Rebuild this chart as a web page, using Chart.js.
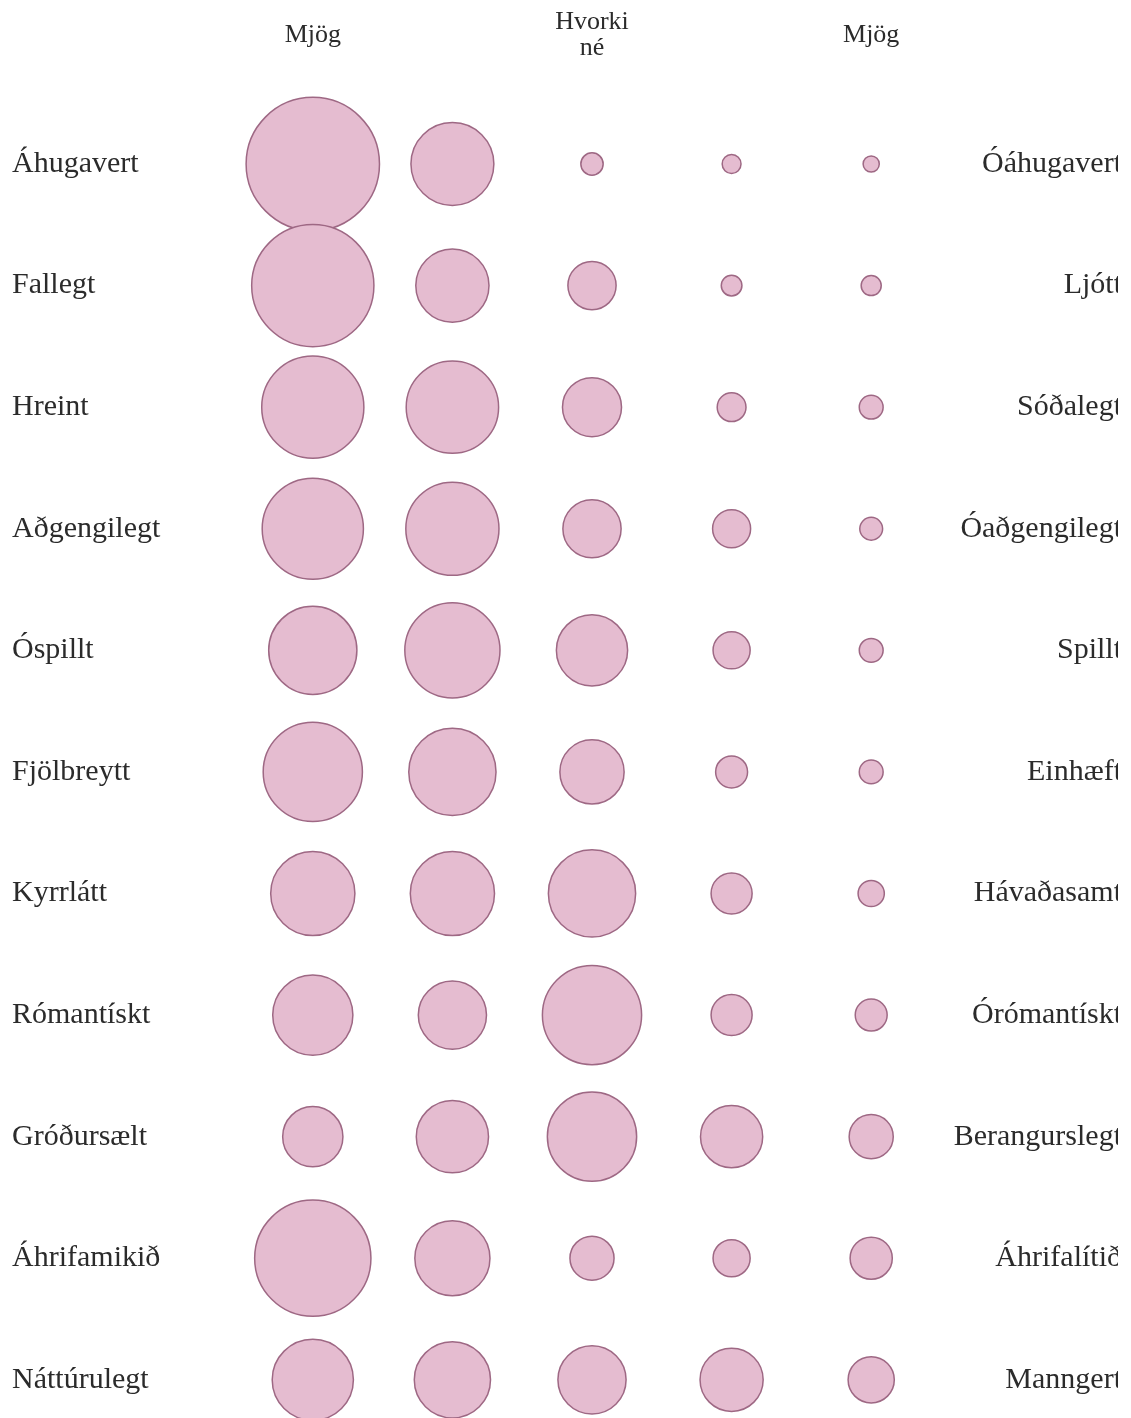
<!DOCTYPE html>
<html>
<head>
<meta charset="utf-8">
<script src="https://cdn.jsdelivr.net/npm/chart.js@4"></script>
<style>
  html, body { margin: 0; padding: 0; background: #fff; overflow: hidden; }
  #wrap { width: 1118px; height: 1418px; overflow: hidden; }
</style>
</head>
<body>
<div id="wrap"><canvas id="chart" width="1131" height="1448"></canvas></div>
<script>
// semantic differential: one row per word pair, five answer columns
const leftLabels = [
    "Áhugavert", "Fallegt", "Hreint", "Aðgengilegt", "Óspillt", "Fjölbreytt",
    "Kyrrlátt", "Rómantískt", "Gróðursælt", "Áhrifamikið", "Náttúrulegt",
];
const rightLabels = [
    "Óáhugavert", "Ljótt", "Sóðalegt", "Óaðgengilegt", "Spillt", "Einhæft",
    "Hávaðasamt", "Órómantískt", "Berangurslegt", "Áhrifalítið", "Manngert",
];
const headerLabels = ["Mjög", "", ["Hvorki", "né"], "", "Mjög"];

// share of answers (%) per row, columns 1..5
const shares = [
    [75, 29, 2.1, 1.5, 1.1],
    [63, 22.6, 9.8, 1.8, 1.7],
    [44, 36, 14.7, 3.5, 2.4],
    [43.2, 36.6, 14.3, 6.1, 2.2],
    [32.8, 38.2, 21.4, 5.8, 2.4],
    [41.5, 32.1, 17.4, 4.3, 2.4],
    [29.9, 29.9, 32.1, 7.1, 2.9],
    [27.1, 19.6, 41.5, 7.1, 4.3],
    [15.3, 22, 33.6, 16.3, 8.2],
    [57, 23.8, 8.2, 5.8, 7.5],
    [27.8, 24.5, 19.6, 16.8, 9],
];

const FONT = '"Liberation Serif", "Times New Roman", serif';
const TEXT = "#2b2b2b";

const points = [];
shares.forEach((row, i) => {
    row.forEach((v, j) => {
        points.push({ x: j + 1, y: leftLabels[i], v: v });
    });
});

// canvas is 30px taller than the page: the bubble overflow padding
// (largest radius) is kept below the visible area
new Chart(document.getElementById("chart"), {
    type: "bubble",
    data: {
        datasets: [{
            data: points,
            backgroundColor: "rgb(229,188,208)",
            borderColor: "rgb(158,104,132)",
            borderWidth: 1.5,
            radius: ctx => 7.7 * Math.sqrt(ctx.raw.v),
            hoverRadius: 0,
            clip: false,
        }],
    },
    options: {
        responsive: false,
        devicePixelRatio: 1,
        animation: false,
        events: [],
        layout: { padding: { left: 12, right: 9, top: 0, bottom: 0 } },
        plugins: { legend: { display: false }, tooltip: { enabled: false } },
        scales: {
            x: {
                type: "linear",
                position: "top",
                min: 0.5,
                max: 5.5,
                grid: { display: false, drawTicks: false },
                border: { display: false },
                afterBuildTicks: s => { s.ticks = [{ value: 1 }, { value: 3 }, { value: 5 }]; },
                afterFit: s => { s.height = 164; },
                ticks: {
                    padding: 116,
                    maxRotation: 0,
                    autoSkip: false,
                    crossAlign: "center",
                    color: TEXT,
                    font: { family: FONT, size: 26, lineHeight: 1.0 },
                    callback: v => headerLabels[v - 1],
                },
            },
            y: {
                type: "category",
                labels: leftLabels,
                position: "left",
                offset: false,
                grid: { display: false, drawTicks: false },
                border: { display: false },
                afterFit: s => { s.width = 231; },
                ticks: {
                    crossAlign: "far",
                    autoSkip: false,
                    color: TEXT,
                    font: { family: FONT, size: 30 },
                },
            },
            y2: {
                type: "category",
                labels: rightLabels,
                position: "right",
                offset: false,
                grid: { display: false, drawTicks: false },
                border: { display: false },
                afterFit: s => { s.width = 181; },
                ticks: {
                    crossAlign: "far",
                    autoSkip: false,
                    color: TEXT,
                    font: { family: FONT, size: 30 },
                },
            },
        },
    },
});
</script>
</body>
</html>
